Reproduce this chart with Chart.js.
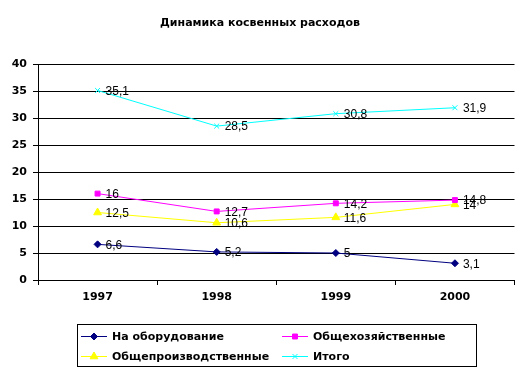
<!DOCTYPE html>
<html><head><meta charset="utf-8">
<script src="https://cdn.jsdelivr.net/npm/chart.js@4/dist/chart.umd.min.js"></script>
<style>html,body{margin:0;padding:0;background:#fff}#c{display:block}</style>
</head><body>
<canvas id="c" width="520" height="378"></canvas>
<script>
const title = "Динамика косвенных расходов";
const categories = ["1997", "1998", "1999", "2000"];
const seriesNames = ["На оборудование", "Общехозяйственные", "Общепроизводственные", "Итого"];
const equipment = [6.6, 5.2, 5, 3.1];
const general = [16, 12.7, 14.2, 14.8];
const production = [12.5, 10.6, 11.6, 14];
const total = [35.1, 28.5, 30.8, 31.9];
const yTicks = [0, 5, 10, 15, 20, 25, 30, 35, 40];

const colors = ["#000080", "#FF00FF", "#FFFF00", "#00FFFF"];
const styles = ["rectRot", "rect", "triangle", "crossRot"];
const radii = [3.5, 3.5, 4.5, 3.5];
const values = [equipment, general, production, total];
const BOLD = "'DejaVu Sans', sans-serif";
const LABEL = "'Liberation Sans', Arial, sans-serif";

const fmt = v => String(v).replace('.', ',');

const datasets = values.map((v, i) => ({
  label: seriesNames[i], data: v,
  borderColor: colors[i], backgroundColor: colors[i],
  borderWidth: 1, pointStyle: styles[i], pointRadius: radii[i],
  pointBorderColor: colors[i], pointBackgroundColor: colors[i], pointBorderWidth: 1,
  tension: 0
}));

const extras = {
  id: 'extras',
  afterDatasetsDraw(chart) {
    const ctx = chart.ctx;
    ctx.save();
    ctx.fillStyle = '#000';
    ctx.font = "12px " + LABEL;
    ctx.textAlign = 'left';
    ctx.textBaseline = 'middle';
    chart.data.datasets.forEach((ds, i) => {
      const meta = chart.getDatasetMeta(i);
      meta.data.forEach((pt, j) => {
        ctx.fillText(fmt(ds.data[j]), pt.x + 8, pt.y + 1);
      });
    });
    ctx.restore();
  },
  afterDraw(chart) {
    const ctx = chart.ctx;
    ctx.save();
    ctx.fillStyle = '#000';
    ctx.font = "bold 11px " + BOLD;
    ctx.textAlign = 'center';
    ctx.textBaseline = 'middle';
    ctx.fillText(title, 260, 23);
    // legend box
    ctx.strokeStyle = '#000';
    ctx.lineWidth = 1;
    ctx.strokeRect(77.5, 324.5, 399, 42);
    const pos = [[81, 336], [282, 336], [81, 356], [282, 356]];
    chart.data.datasets.forEach((ds, i) => {
      const [x, y] = pos[i];
      ctx.strokeStyle = colors[i];
      ctx.beginPath(); ctx.moveTo(x, y + 0.5); ctx.lineTo(x + 26, y + 0.5); ctx.stroke();
      ctx.fillStyle = colors[i];
      Chart.helpers.drawPoint(ctx, {pointStyle: styles[i], radius: radii[i], borderWidth: 1, rotation: 0}, x + 13, y + 0.5);
      ctx.fillStyle = '#000';
      ctx.textAlign = 'left';
      ctx.fillText(ds.label, x + 31, y + 1);
    });
    ctx.restore();
  }
};

new Chart(document.getElementById('c'), {
  type: 'line',
  data: { labels: categories, datasets },
  options: {
    responsive: false, animation: false,
    layout: { padding: { left: 0, right: 5, top: 64, bottom: 0 } },
    plugins: { legend: { display: false }, title: { display: false }, tooltip: { enabled: false } },
    scales: {
      x: {
        offset: true,
        grid: { offset: true, drawOnChartArea: false, color: '#000', tickLength: 5, tickColor: '#000' },
        border: { color: '#000', width: 1 },
        ticks: { color: '#000', font: { family: BOLD, size: 11, weight: 'bold' }, padding: 6 },
        afterFit(s) { s.height = 98; }
      },
      y: {
        min: 0, max: 40,
        afterBuildTicks(s) { s.ticks = yTicks.map(v => ({ value: v })); },
        grid: { color: '#000', tickLength: 5, tickColor: '#000' },
        border: { color: '#000', width: 1 },
        ticks: { color: '#000', font: { family: BOLD, size: 11, weight: 'bold' }, padding: 6 },
        afterFit(s) { s.width = 38; }
      }
    }
  },
  plugins: [extras]
});
</script>
</body></html>
